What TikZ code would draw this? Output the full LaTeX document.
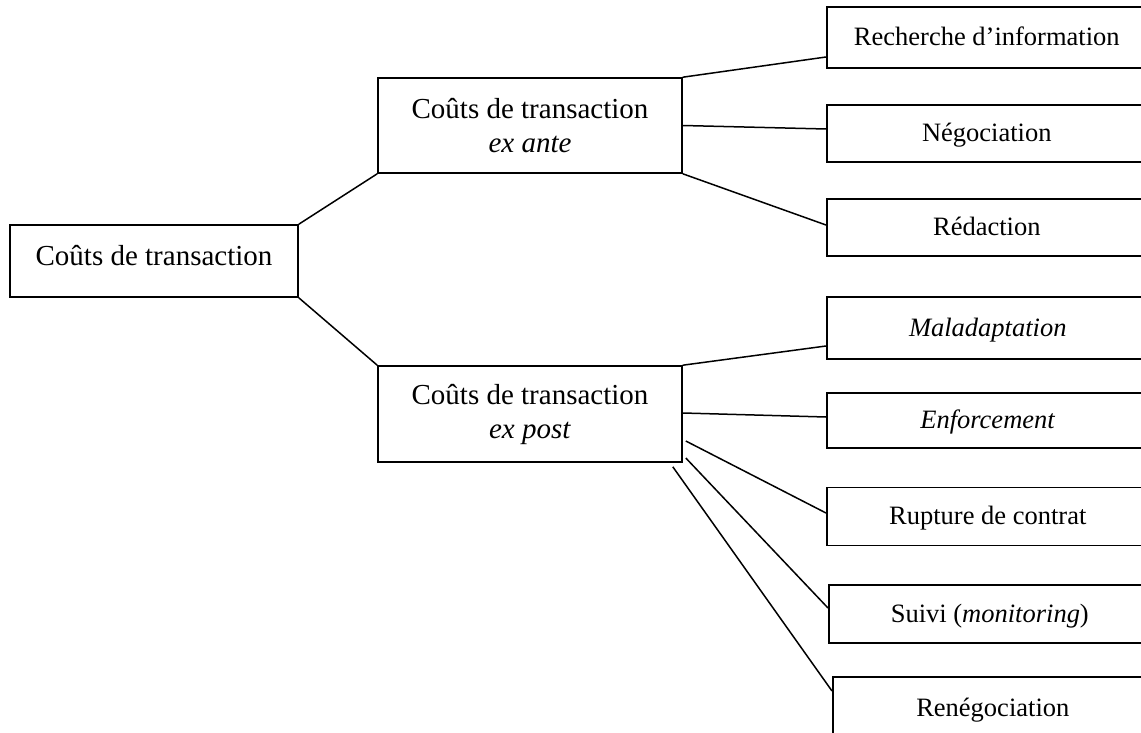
\documentclass[tikz,border=0pt]{standalone}
\usepackage{fontspec}
\setmainfont{Liberation Serif}
\tikzset{
  box/.style = {draw, line width=1.6pt, inner sep=0pt, align=center,
                font=\fontsize{29}{34}\selectfont},
  leaf/.style = {draw, line width=1.6pt, inner sep=0pt, anchor=west,
                 minimum height=58pt, minimum width=320pt,
                 text height=18pt, text depth=2pt,
                 font=\fontsize{26.5}{31}\selectfont},
  link/.style = {line width=1.5pt}
}
\begin{document}
\begin{tikzpicture}[x=1pt, y=-1pt]
    \clip (0,0) rectangle (1141,733);
    \node [box, minimum width=288pt, minimum height=72pt,
           text height=21pt, text depth=12.5pt] (root) at (154,261) {Coûts de transaction};
    \node [box, minimum width=304pt, minimum height=95pt] (exante) at (530,125.5)
          {Coûts de transaction\\\textit{ex ante}};
    \node [box, minimum width=304pt, minimum height=96pt] (expost) at (530,414)
          {Coûts de transaction\\\textit{ex post}};
    \node [leaf, minimum height=61pt] (recherche) at (826,37.5) {Recherche d’information};
    \node [leaf, minimum height=57pt] (negociation) at (826,133.5) {Négociation};
    \node [leaf, minimum height=57pt] (redaction) at (826,227.5) {Rédaction};
    \node [leaf, minimum height=62pt, minimum width=322pt] (maladaptation) at (826,328) {\textit{Maladaptation}};
    \node [leaf, minimum height=55pt, minimum width=322pt] (enforcement) at (826,420.5) {\textit{Enforcement}};
    \node [leaf, minimum width=322pt] (rupture) at (826,516.5) {Rupture de contrat};
    \node [leaf, minimum width=322pt] (suivi) at (828,614) {Suivi (\textit{monitoring})};
    \node [leaf, minimum height=62pt, minimum width=320pt] (renegociation) at (832,708) {Renégociation};
    % branches
    \draw [link] (root.north east) -- (exante.south west);
    \draw [link] (root.south east) -- (expost.north west);
    \draw [link] (exante.north east) -- ([yshift=-19.5pt]recherche.west);
    \draw [link] (exante.east) -- ([yshift=4.5pt]negociation.west);
    \draw [link] (exante.south east) -- ([yshift=2.5pt]redaction.west);
    \draw [link] (expost.north east) -- ([yshift=-18pt]maladaptation.west);
    \draw [link] ([yshift=1pt]expost.east) -- ([yshift=3.5pt]enforcement.west);
    \draw [link] ([xshift=3pt,yshift=-27pt]expost.east) -- ([yshift=3.5pt]rupture.west);
    \draw [link] ([xshift=3pt,yshift=-44pt]expost.east) -- ([yshift=6pt]suivi.west);
    \draw [link] ([xshift=-10pt,yshift=-4pt]expost.south east) -- ([yshift=17pt]renegociation.west);
\end{tikzpicture}
\end{document}
